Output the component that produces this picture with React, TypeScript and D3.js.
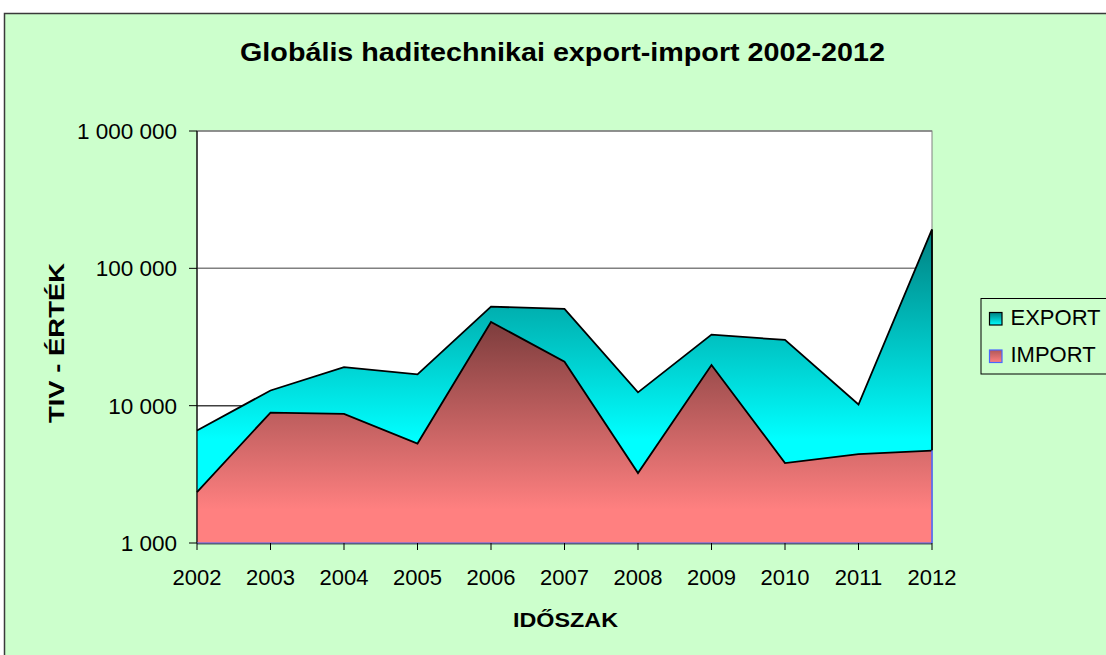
import React from 'react';
import * as d3 from 'd3';

// data
const years = ['2002', '2003', '2004', '2005', '2006', '2007', '2008', '2009', '2010', '2011', '2012'];
const exportValues = [6600, 12900, 19100, 16900, 52600, 50600, 12500, 32900, 30100, 10200, 192000];
const importValues = [2350, 8900, 8700, 5300, 40700, 20900, 3230, 19800, 3820, 4440, 4710];
const yTicks = [1000, 10000, 100000, 1000000];
const seriesNames = ['EXPORT', 'IMPORT'];

const W = 1106;
const H = 655;
const plot = { left: 197, right: 932, top: 131, bottom: 543 };
const font = '"Liberation Sans", Arial, sans-serif';

const x = d3.scalePoint<string>().domain(years).range([plot.left, plot.right]);
const y = d3.scaleLog().domain([1000, 1000000]).range([plot.bottom, plot.top]);
const fmt = (v: number) => d3.format(',')(v).replace(/,/g, ' ');

export default function App() {
  const area = d3.area<number>()
    .x((d, i) => x(years[i]) as number)
    .y0(y(1000))
    .y1(d => y(d));
  const line = d3.line<number>()
    .x((d, i) => x(years[i]) as number)
    .y(d => y(d));

  const lastX = x(years[years.length - 1]) as number;
  const lastExp = exportValues[exportValues.length - 1];
  const lastImp = importValues[importValues.length - 1];

  return (
    <svg width={W} height={H} style={{ position: 'absolute', left: 0, top: 0 }} fontFamily={font}>
      <defs>
        <linearGradient id="gExp" gradientUnits="userSpaceOnUse" x1={0} x2={0}
          y1={y(d3.max(exportValues) as number)} y2={y(1000)}>
          <stop offset="0" stopColor="#008080" />
          <stop offset="0.67" stopColor="#00ffff" />
          <stop offset="1" stopColor="#00ffff" />
        </linearGradient>
        <linearGradient id="gImp" gradientUnits="userSpaceOnUse" x1={0} x2={0}
          y1={y(d3.max(importValues) as number)} y2={y(1000)}>
          <stop offset="0" stopColor="#7d3d3d" />
          <stop offset="0.85" stopColor="#ff8080" />
          <stop offset="1" stopColor="#ff8080" />
        </linearGradient>
        <linearGradient id="gExpL" x1="0" x2="0" y1="0" y2="1">
          <stop offset="0" stopColor="#008080" />
          <stop offset="1" stopColor="#00ffff" />
        </linearGradient>
        <linearGradient id="gImpL" x1="0" x2="0" y1="0" y2="1">
          <stop offset="0" stopColor="#b05858" />
          <stop offset="1" stopColor="#ff8080" />
        </linearGradient>
      </defs>

      {/* chart area */}
      <rect x={0} y={0} width={W} height={H} fill="#ffffff" />
      <rect x={4.5} y={13.5} width={W + 10} height={H + 10} fill="#ccffcc" stroke="#3a3a3a" strokeWidth={1.5} />

      <text x={562.5} y={61} textAnchor="middle" fontSize={26} fontWeight="bold"
        textLength={645} lengthAdjust="spacingAndGlyphs">
        Globális haditechnikai export-import 2002-2012
      </text>

      {/* plot area */}
      <rect x={plot.left} y={plot.top} width={plot.right - plot.left} height={plot.bottom - plot.top}
        fill="#ffffff" stroke="#808080" strokeWidth={1} />
      {yTicks.map(t => (
        <line key={t} x1={plot.left} x2={plot.right} y1={y(t)} y2={y(t)}
          stroke={t === 10000 ? '#404040' : '#808080'} strokeWidth={1.5} />
      ))}

      {/* EXPORT */}
      <path d={area(exportValues) as string} fill="url(#gExp)" />
      <path d={line(exportValues) as string} fill="none" stroke="#000" strokeWidth={1.8} />
      <line x1={lastX} x2={lastX} y1={y(lastExp)} y2={y(lastImp)} stroke="#000" strokeWidth={1.8} />

      {/* IMPORT */}
      <path d={area(importValues) as string} fill="url(#gImp)" />
      <path d={line(importValues) as string} fill="none" stroke="#000" strokeWidth={1.8} />
      <line x1={lastX} x2={lastX} y1={y(lastImp)} y2={y(1000)} stroke="#4a66ff" strokeWidth={1.5} />

      {/* axes */}
      <line x1={plot.left} x2={plot.left} y1={plot.top} y2={plot.bottom} stroke="#000" strokeWidth={1.2} />
      <line x1={plot.left} x2={plot.right} y1={plot.bottom} y2={plot.bottom} stroke="#4a66ff" strokeWidth={1.2} />
      <line x1={plot.left} x2={plot.right} y1={plot.bottom + 1} y2={plot.bottom + 1} stroke="#333" strokeWidth={0.8} />
      {years.map(yr => (
        <g key={yr} transform={`translate(${x(yr)},${plot.bottom})`}>
          <line y1={0} y2={7} stroke="#000" strokeWidth={1} />
          <text y={41.5} textAnchor="middle" fontSize={22}>{yr}</text>
        </g>
      ))}
      {yTicks.map(t => (
        <g key={t} transform={`translate(${plot.left},${y(t)})`}>
          <line x1={-8} x2={0} stroke="#000" strokeWidth={1} />
          <text x={-20} dy="0.36em" textAnchor="end" fontSize={22.5}>{fmt(t)}</text>
        </g>
      ))}

      <text x={565.5} y={627} textAnchor="middle" fontSize={21} fontWeight="bold"
        textLength={105} lengthAdjust="spacingAndGlyphs">IDŐSZAK</text>
      <text transform="translate(64,343) rotate(-90)" textAnchor="middle" fontSize={22} fontWeight="bold"
        textLength={160} lengthAdjust="spacingAndGlyphs">TIV - ÉRTÉK</text>

      {/* legend */}
      <rect x={981} y={298.5} width={140} height={75.5} fill="#ccffcc" stroke="#000" strokeWidth={1} />
      {seriesNames.map((s, i) => (
        <g key={s} transform={`translate(989,${312 + i * 37.5})`}>
          <rect x={0.5} y={0.5} width={12.5} height={12.5}
            fill={i === 0 ? 'url(#gExpL)' : 'url(#gImpL)'}
            stroke={i === 0 ? '#000' : '#4a66ff'} strokeWidth={1.2} />
          <text x={21.5} y={12.5} fontSize={22}>{s}</text>
        </g>
      ))}
    </svg>
  );
}
